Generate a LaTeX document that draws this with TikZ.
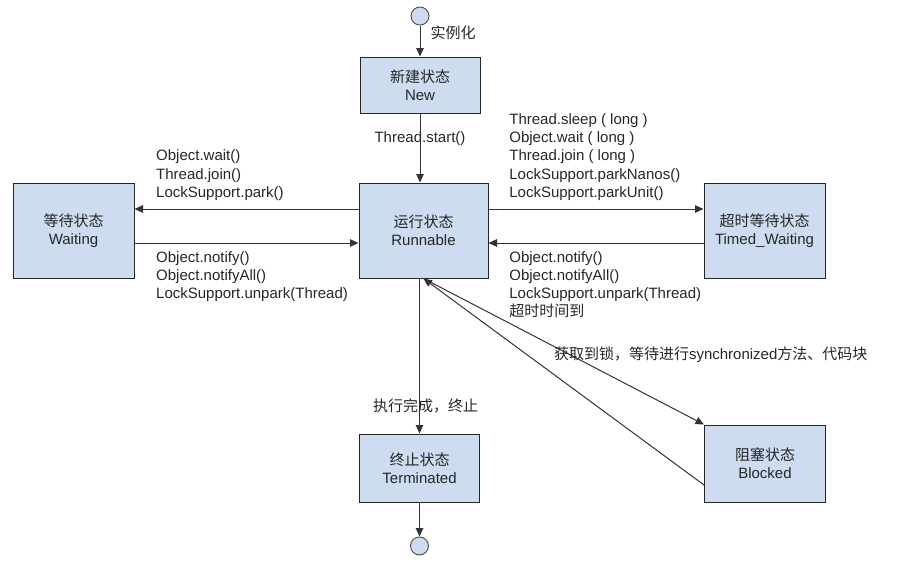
\documentclass[tikz,border=0pt]{standalone}
\usepackage{fontspec}
\setmainfont{Liberation Sans}
\newfontfamily\cjk{Noto Sans CJK SC}
\usetikzlibrary{positioning, arrows.meta}
\definecolor{boxblue}{HTML}{CDDCF0}
\definecolor{linegray}{HTML}{333333}

\tikzset{
  state/.style={draw=black!85, fill=boxblue, line width=1pt, align=center,
    minimum width=121pt, minimum height=95pt, inner sep=2pt, text=black!85},
  dot/.style={circle, draw=black!70, fill=boxblue, minimum size=18pt,
    inner sep=0pt, line width=0.9pt},
  trans/.style={draw=linegray, line width=1pt, -{Triangle[length=8.5pt,width=7.5pt]}},
  lbl/.style={align=left, inner sep=1pt, text=black!85}
}

\begin{document}
\begin{tikzpicture}[x=1pt, y=1pt, font=\fontsize{15}{18.2}\selectfont]
  \useasboundingbox (0,0) rectangle (916,-568);

  % states
  \node[state, minimum width=120pt, minimum height=56pt] (new) at (420,-85) {{\cjk 新建状态}\\New};
  \node[dot, above=31pt of new] (init) {};
  \node[state, minimum width=129pt, below=69pt of new, xshift=3.5pt] (run) {{\cjk 运行状态}\\Runnable};
  \node[state, left=224pt of run] (wait) {{\cjk 等待状态}\\Waiting};
  \node[state, right=215pt of run] (timed) {{\cjk 超时等待状态}\\Timed\_Waiting};
  \node[state, minimum width=120pt, minimum height=68pt, below=155pt of run, xshift=-4pt] (term) {{\cjk 终止状态}\\Terminated};
  \node[dot, below=34pt of term] (final) {};
  \node[state, minimum height=77pt, right=224pt of term.south east, anchor=south west] (blk) {{\cjk 阻塞状态}\\Blocked};

  % transitions
  \draw[trans] (init) -- node[lbl, right=9pt, pos=0.23] {{\cjk 实例化}} (new);
  \draw[trans] (new) -- node[lbl, pos=0.36] {Thread.start()} (run.north -| new);
  \draw[trans] ([yshift=21.5pt]run.west) -- node[lbl, pos=0.91, anchor=south west, yshift=7pt]
    {Object.wait()\\Thread.join()\\LockSupport.park()} ([yshift=21.5pt]wait.east);
  \draw[trans] ([yshift=-12.5pt]wait.east) -- node[lbl, pos=0.09, anchor=north west, yshift=-7pt]
    {Object.notify()\\Object.notifyAll()\\LockSupport.unpark(Thread)} ([yshift=-12.5pt]run.west);
  \draw[trans] ([yshift=21.5pt]run.east) -- node[lbl, pos=0.09, anchor=south west, yshift=7pt]
    {Thread.sleep ( long )\\Object.wait ( long )\\Thread.join ( long )\\LockSupport.parkNanos()\\LockSupport.parkUnit()} ([yshift=21.5pt]timed.west);
  \draw[trans] ([yshift=-12.5pt]timed.west) -- node[lbl, pos=0.91, anchor=north west, yshift=-7pt]
    {Object.notify()\\Object.notifyAll()\\LockSupport.unpark(Thread)\\{\cjk 超时时间到}} ([yshift=-12.5pt]run.east);
  \draw[trans] (run.south) -- node[lbl, pos=0.46, anchor=north west]
    {{\cjk 获取到锁，等待进行}synchronized{\cjk 方法、代码块}} (blk.north west);
  \draw[trans] ([yshift=-21.5pt]blk.west) -- (run.south);
  \draw[trans] (run.south -| term) -- node[lbl, pos=0.82, xshift=6pt] {{\cjk 执行完成，终止}} (term);
  \draw[trans] (term) -- (final);
\end{tikzpicture}
\end{document}
